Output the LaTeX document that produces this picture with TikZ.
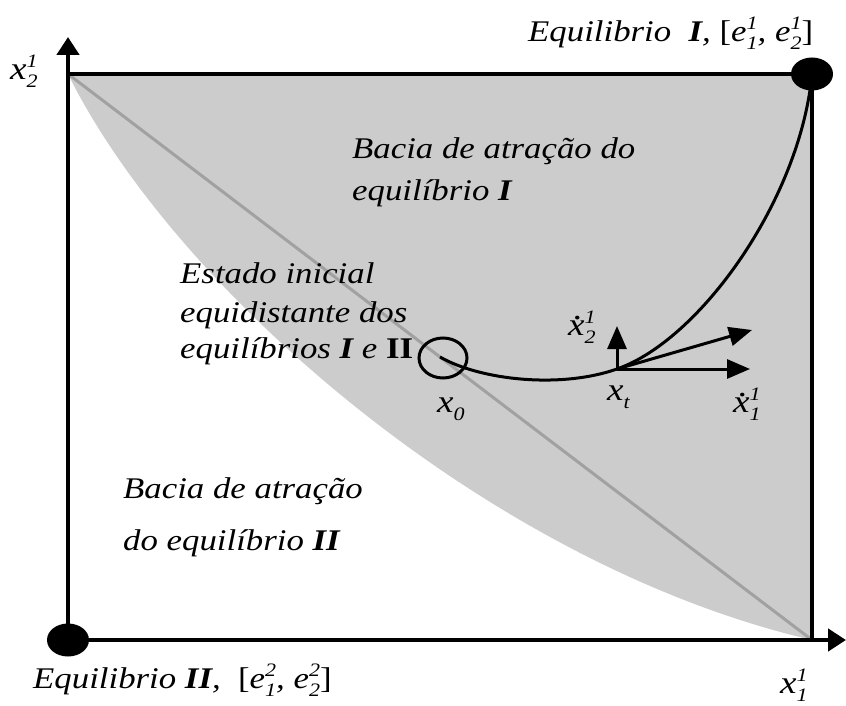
\documentclass[tikz,border=0pt]{standalone}
\usepackage{fontspec}
\setmainfont[FakeStretch=1.16]{Liberation Serif}
\usetikzlibrary{shapes.geometric,arrows.meta}
\newcommand\SP[2]{{\fontsize{19}{19}\selectfont\rlap{\raisebox{12pt}{\textit{#1}}}\raisebox{-8pt}{\textit{#2}}}}
\newcommand\xdot{\makebox[0pt][l]{\hspace{0.17em}\raisebox{0.5em}{.}}x}
\begin{document}
\begin{tikzpicture}[x=1pt,y=-1pt,
  txt/.style={anchor=base west, inner sep=0pt, font=\fontsize{30}{38}\selectfont\itshape},
  mth/.style={anchor=base west, inner sep=0pt, font=\fontsize{32}{38}\selectfont\itshape},
  edge/.style={line width=4.5pt},
  axis/.style={line width=4.5pt, -{Triangle[length=18pt,width=22pt]}},
  vec/.style={line width=3pt, -{Triangle[length=23pt,width=19pt]}},
  traj/.style={line width=3pt},
  diag/.style={line width=3pt, draw=black!37},
  dot/.style={ellipse, fill=black, minimum width=42pt, minimum height=33pt, inner sep=0pt},
  ring/.style={ellipse, draw, line width=3pt, minimum width=48pt, minimum height=40pt, inner sep=0pt}]
\useasboundingbox (0,0) rectangle (846,706);
\coordinate (tl) at (68,74);
\coordinate (tr) at (812,74);
\coordinate (br) at (812,640);
\coordinate (bl) at (68,640);
\coordinate (ytip) at (68,37);
\coordinate (xtip) at (846,640);
% basin of attraction of equilibrium I
\fill[black!20] (tl) -- (tr) -- (br) .. controls (490,565) and (175,290) .. (tl) -- cycle;
\draw[diag] (tl) -- (br);
\draw[edge] (tl) -- (tr) -- (br);
\draw[axis] (bl) -- (ytip);
\draw[axis] (bl) -- (xtip);
\node[dot] (eqI) at (tr) {};
\node[dot] (eqII) at (bl) {};
% trajectory
\node[ring] (x0c) at (443,358) {};
\coordinate (start) at (440,357);
\coordinate (xt) at (617,369);
\draw[traj] (start) .. controls (480,380) and (560,389) .. (xt) .. controls (700,340) and (800,200) .. (eqI.center);
\coordinate (h1) at (750,369);
\coordinate (v2) at (617,326);
\coordinate (dd) at (752,330);
\draw[vec] (xt) -- (h1);
\draw[vec] (xt) -- (v2);
\draw[vec] (xt) -- (dd);
% labels
\node[txt] (lI) at (528,42) {Equilibrio\ \ \textbf{I}, \textup{[}\textit{e}\SP{1}{1}, \textit{e}\SP{1}{2}\textup{]}};
\node[mth] (lx2) at (10,80) {x\SP{1}{2}};
\node[txt] (b1a) at (352,158) {Bacia de atração do};
\node[txt] (b1b) at (352,200) {equilíbrio \textbf{I}};
\node[txt] (e1) at (180,283) {Estado inicial};
\node[txt] (e2) at (180,322) {equidistante dos};
\node[txt] (e3) at (180,358) {equilíbrios \textbf{I} e \textbf{\upshape II}};
\node[mth] (lx0) at (437,412) {x\SP{}{0}};
\node[mth] (lxt) at (607,400) {x\SP{}{t}};
\node[mth] (ld2) at (568,335) {\xdot\SP{1}{2}};
\node[mth] (ld1) at (733,412) {\xdot\SP{1}{1}};
\node[txt] (b2a) at (123,498) {Bacia de atração};
\node[txt] (b2b) at (123,550) {do equilíbrio \textbf{II}};
\node[txt] (lII) at (33,688) {Equilibrio \textbf{II},\ \ \textup{[}\textit{e}\SP{2}{1}, \textit{e}\SP{2}{2}\textup{]}};
\node[mth] (lx1) at (780,693) {x\SP{1}{1}};
\end{tikzpicture}
\end{document}
